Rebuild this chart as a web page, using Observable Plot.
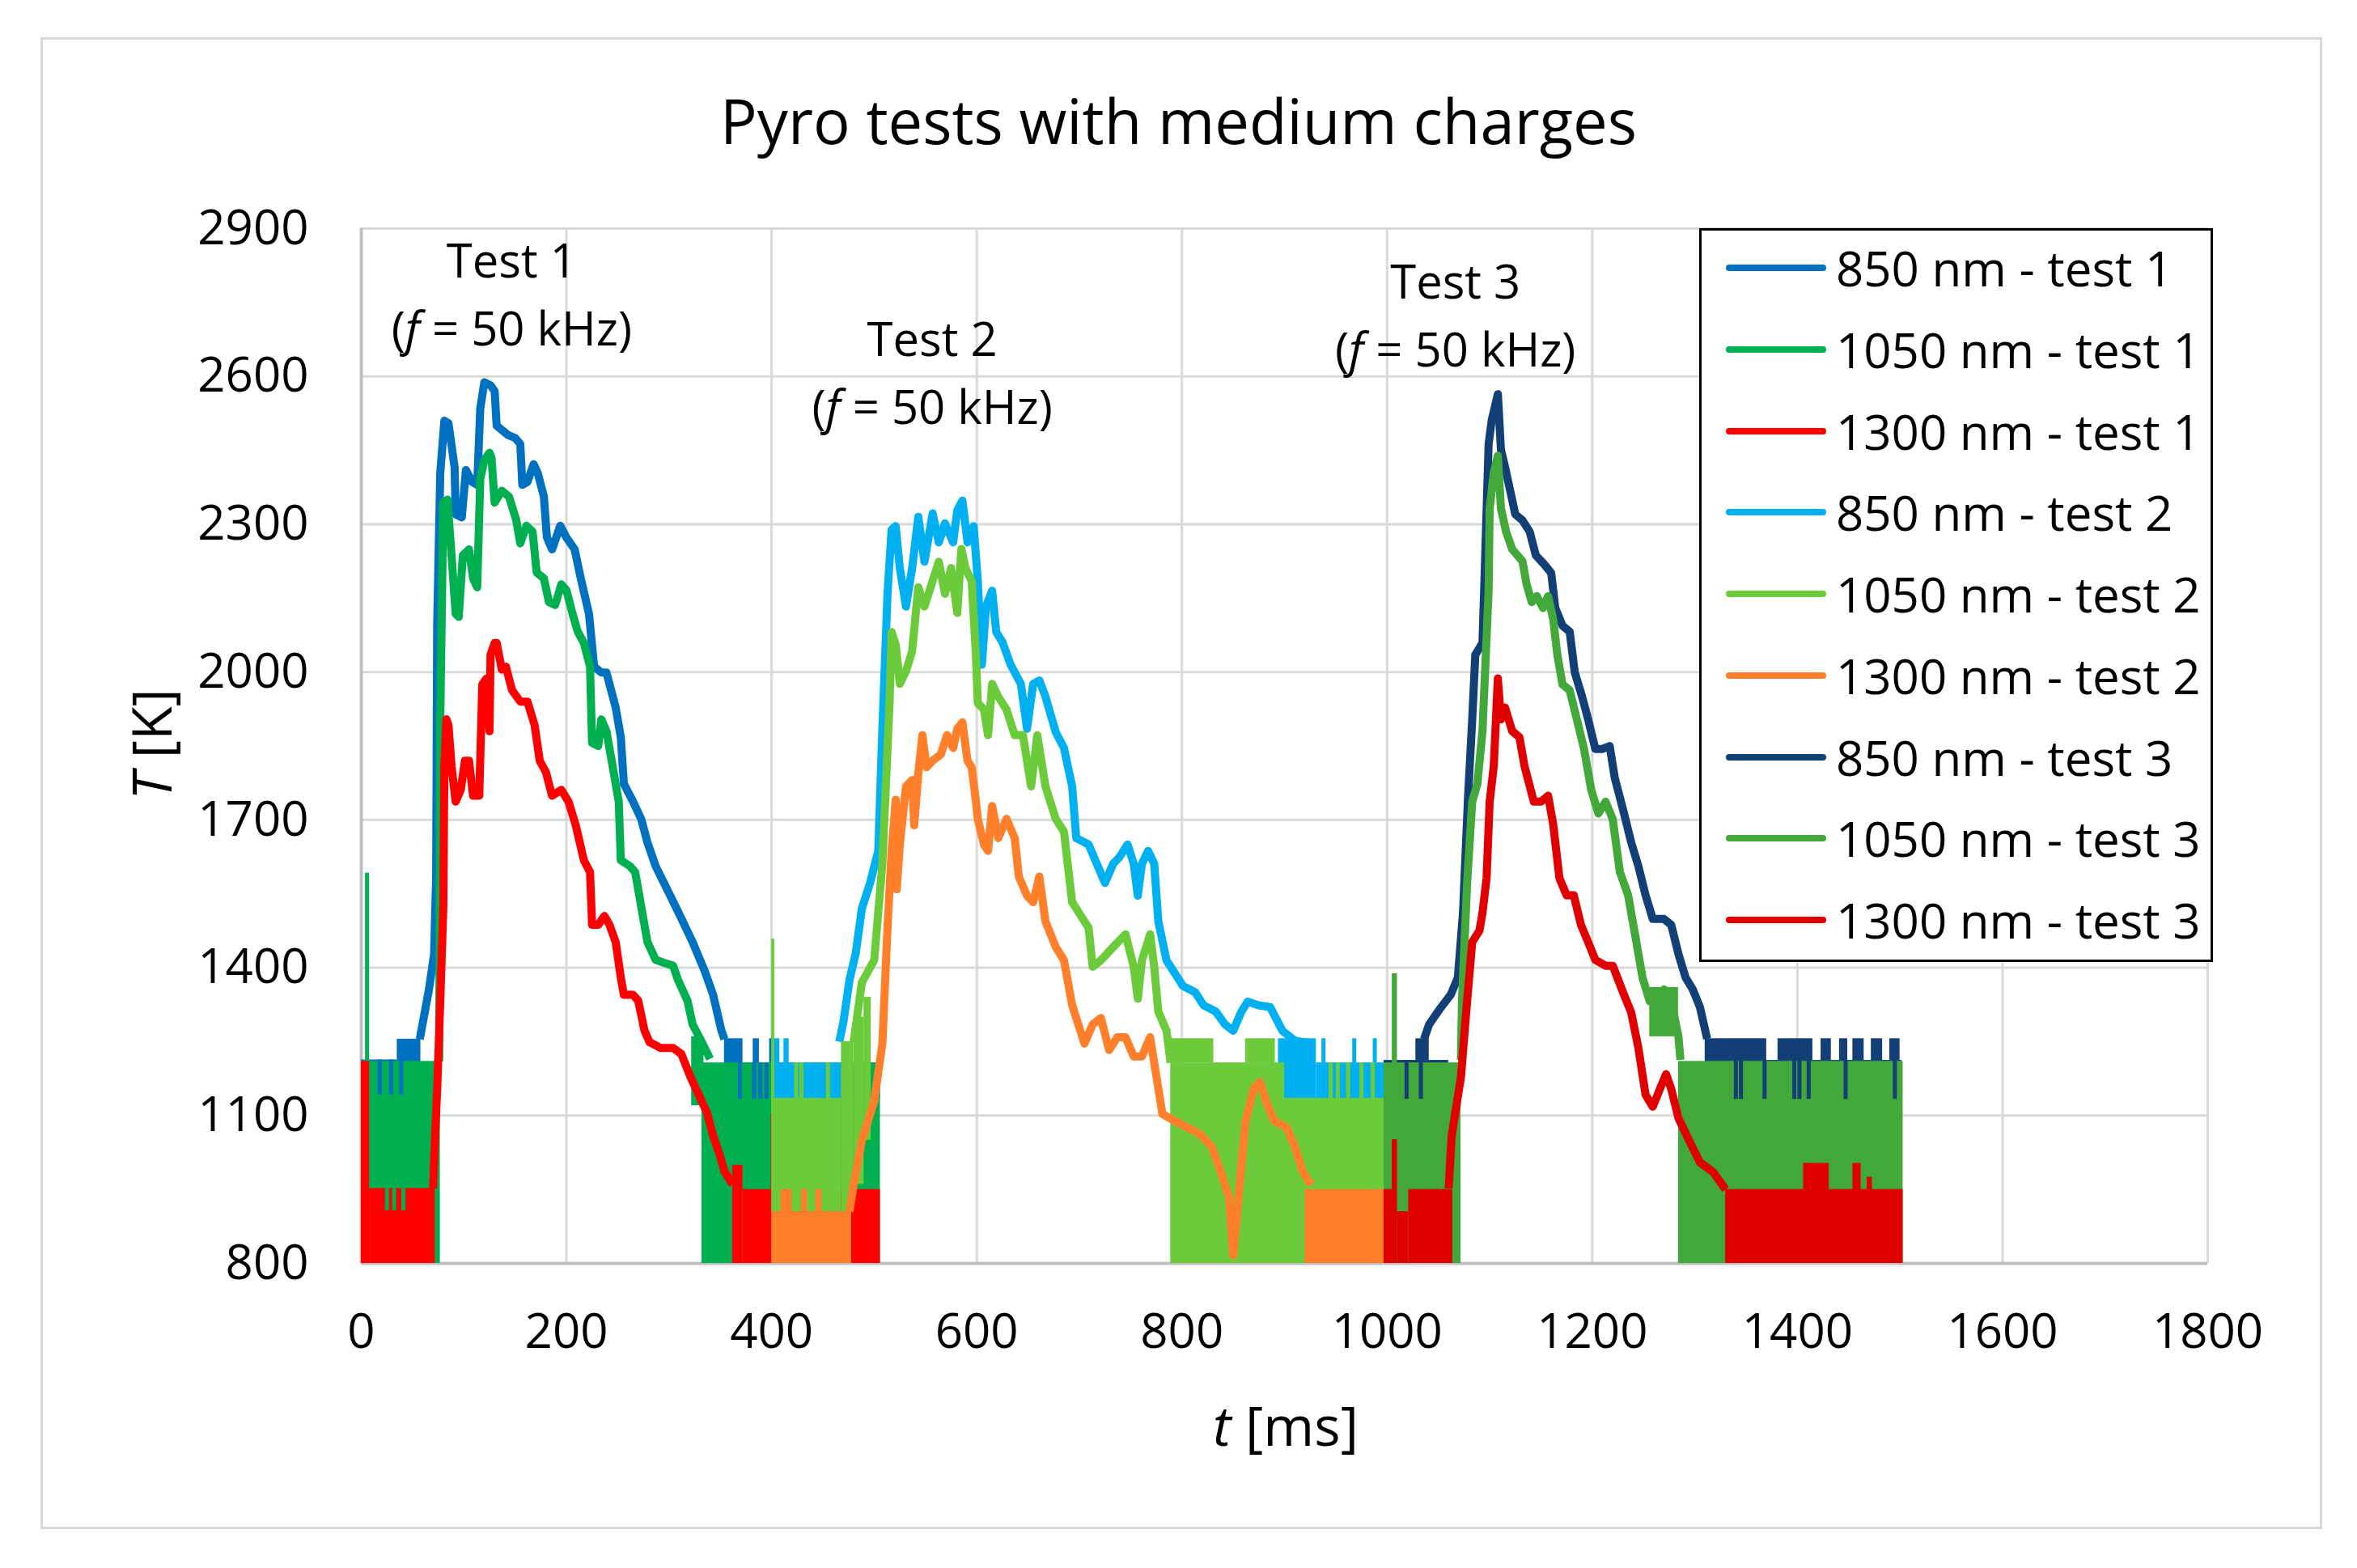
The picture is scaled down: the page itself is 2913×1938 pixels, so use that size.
<!DOCTYPE html>
<html>
<head>
<meta charset="utf-8">
<script src="https://cdn.jsdelivr.net/npm/d3@7"></script>
<script src="https://cdn.jsdelivr.net/npm/@observablehq/plot@0.6"></script>
<style>
  body { margin: 0; background: #fff; font-family: "Open Sans", sans-serif; color: #000; }
  #page { position: relative; width: 2913px; height: 1938px; overflow: hidden; }
  #frame { position: absolute; left: 50px; top: 46px; width: 2814px; height: 1838px; border: 3px solid #d9d9d9; }
  #title { position: absolute; left: 0; width: 2913px; top: 99px; text-align: center; font-size: 76px; line-height: 100px; }
  #chart { position: absolute; left: 0; top: 0; }
  .lbl { position: absolute; transform: translate(-50%, -50%); white-space: nowrap; font-size: 58px; line-height: 1; }
  .axt { position: absolute; white-space: nowrap; font-size: 68px; line-height: 1; }
  #legend { position: absolute; left: 2100px; top: 282px; width: 629px; height: 901px; border: 3px solid #000; background: #fff; }
  .item { position: absolute; left: 0; height: 100px; display: flex; align-items: center; }
  .sw { width: 124px; height: 8px; border-radius: 4px; margin-left: 30px; }
  .txt { font-size: 60px; margin-left: 12px; }
</style>
</head>
<body>
<div id="page">
  <div id="frame"></div>
  <div id="title">Pyro tests with medium charges</div>
  <div id="chart"></div>
  <div id="legend"></div>
</div>
<script>
// ─────────────────────────────────────────────
//  DATA  (t in ms, T in K)
// ─────────────────────────────────────────────
const SERIES = [
  "850 nm - test 1", "1050 nm - test 1", "1300 nm - test 1",
  "850 nm - test 2", "1050 nm - test 2", "1300 nm - test 2",
  "850 nm - test 3", "1050 nm - test 3", "1300 nm - test 3"
];
const COLORS = [
  "#0070c0", "#00b050", "#ff0000",
  "#00b0f0", "#6bcb3b", "#ff7f2a",
  "#123f75", "#42a83a", "#e00000"
];

const X_TICKS = [0, 200, 400, 600, 800, 1000, 1200, 1400, 1600, 1800];
const Y_TICKS = [800, 1100, 1400, 1700, 2000, 2300, 2600, 2900];

// smooth part of each trace  [t, T]
const LINE_850_1 = [[57,1255],[66,1356],[71,1428],[73,1583],[74,2094],[77,2404],[81,2510],[85,2505],[91,2415],[92,2320],[98,2314],[102,2410],[108,2386],[113,2380],[116,2535],[120,2588],[126,2582],[130,2570],[132,2500],[136,2493],[143,2481],[150,2475],[155,2463],[157,2380],[162,2386],[168,2422],[172,2404],[178,2356],[181,2273],[186,2249],[194,2297],[200,2273],[208,2249],[214,2190],[222,2118],[227,2011],[234,1999],[239,1999],[248,1928],[253,1868],[256,1773],[265,1737],[273,1701],[279,1654],[287,1606],[301,1547],[312,1500],[323,1452],[335,1392],[343,1345],[351,1273],[354,1255]];
const LINE_1050_1 = [[76,1210],[77,1904],[80,2344],[84,2350],[88,2237],[92,2118],[95,2112],[99,2237],[105,2249],[109,2190],[113,2172],[116,2392],[120,2430],[125,2445],[127,2434],[130,2344],[137,2368],[144,2356],[151,2309],[155,2261],[161,2297],[167,2285],[171,2202],[178,2190],[183,2142],[189,2136],[195,2178],[200,2166],[206,2118],[211,2082],[217,2059],[223,2011],[225,1856],[231,1850],[234,1904],[239,1880],[245,1809],[251,1737],[253,1618],[262,1606],[267,1594],[273,1523],[279,1452],[287,1416],[295,1410],[304,1404],[309,1374],[318,1333],[323,1285],[332,1249],[340,1215]];
const LINE_1300_1 = [[70,952],[72,1060],[74,1154],[77,1333],[80,1523],[81,1809],[83,1904],[85,1892],[88,1809],[92,1737],[97,1761],[101,1820],[105,1820],[109,1749],[115,1749],[118,1975],[122,1987],[125,1880],[126,2035],[130,2059],[132,2059],[137,2005],[141,2011],[147,1963],[155,1940],[162,1940],[169,1892],[174,1820],[180,1797],[186,1749],[195,1761],[202,1737],[209,1690],[217,1618],[223,1594],[225,1487],[231,1487],[237,1505],[242,1487],[248,1452],[253,1380],[256,1345],[265,1345],[270,1333],[276,1273],[281,1249],[292,1237],[304,1237],[312,1225],[321,1178],[329,1142],[337,1106],[343,1059],[349,1023],[354,987],[362,960]];
const LINE_850_2 = [[466,1250],[470,1290],[476,1376],[482,1429],[488,1520],[496,1572],[504,1637],[508,1885],[513,2159],[517,2289],[521,2296],[525,2211],[531,2133],[537,2211],[543,2315],[549,2224],[557,2322],[563,2263],[569,2302],[577,2263],[581,2328],[586,2348],[591,2263],[597,2296],[601,2185],[605,2015],[609,2133],[615,2165],[619,2081],[625,2061],[633,2015],[643,1976],[649,1885],[655,1976],[661,1983],[667,1950],[677,1878],[685,1846],[693,1768],[697,1663],[709,1650],[717,1611],[725,1572],[733,1611],[739,1624],[747,1650],[753,1611],[757,1546],[761,1611],[767,1637],[773,1611],[777,1494],[785,1415],[793,1389],[801,1363],[813,1350],[821,1324],[833,1311],[842,1285],[850,1272],[858,1311],[864,1331],[874,1324],[886,1320],[898,1272],[910,1252],[926,1246]];
const LINE_1050_2 = [[480,1250],[488,1370],[500,1415],[508,1611],[515,1937],[517,2081],[521,2055],[525,1976],[531,2002],[537,2042],[543,2172],[549,2133],[557,2185],[563,2224],[569,2159],[575,2211],[581,2120],[585,2250],[589,2211],[595,2185],[599,2042],[601,1937],[607,1924],[611,1872],[615,1976],[621,1950],[629,1924],[637,1872],[645,1872],[653,1768],[659,1872],[667,1768],[677,1702],[685,1676],[693,1533],[701,1507],[709,1481],[713,1402],[721,1415],[733,1442],[745,1468],[753,1402],[757,1337],[761,1415],[769,1468],[773,1402],[777,1311],[785,1272],[789,1207]];
const LINE_1300_2 = [[476,905],[480,960],[488,1050],[500,1129],[508,1246],[513,1481],[517,1637],[521,1741],[522,1559],[525,1650],[531,1768],[537,1781],[539,1689],[543,1794],[547,1872],[551,1807],[557,1820],[565,1833],[571,1872],[577,1846],[581,1885],[586,1898],[591,1820],[595,1807],[599,1741],[601,1702],[607,1650],[611,1637],[615,1728],[621,1663],[629,1702],[637,1663],[641,1585],[649,1546],[655,1533],[661,1585],[667,1494],[677,1442],[685,1415],[693,1324],[705,1246],[713,1285],[721,1298],[729,1233],[737,1259],[745,1259],[753,1220],[761,1220],[769,1259],[777,1155],[781,1103],[793,1089],[805,1076],[817,1063],[829,1037],[838,985],[846,933],[850,816],[854,907],[862,1089],[870,1155],[876,1168],[882,1129],[890,1089],[902,1076],[910,1037],[918,985],[926,959]];
const LINE_850_3 = [[1036,1255],[1041,1285],[1051,1315],[1062,1345],[1069,1380],[1074,1511],[1079,1749],[1083,1904],[1086,2035],[1093,2059],[1095,2190],[1099,2463],[1102,2511],[1108,2564],[1111,2451],[1115,2416],[1120,2368],[1125,2320],[1132,2308],[1139,2285],[1145,2237],[1153,2219],[1160,2201],[1164,2130],[1171,2094],[1178,2082],[1183,1999],[1190,1951],[1196,1904],[1203,1844],[1210,1844],[1217,1850],[1222,1785],[1231,1713],[1238,1654],[1245,1606],[1252,1547],[1259,1499],[1270,1499],[1277,1487],[1284,1428],[1291,1380],[1298,1356],[1305,1320],[1312,1256]];
const LINE_1050_3 = [[1072,1213],[1073,1332],[1078,1571],[1083,1737],[1088,1773],[1093,1880],[1099,2166],[1100,2332],[1104,2404],[1108,2439],[1111,2332],[1116,2285],[1122,2249],[1127,2237],[1132,2225],[1136,2178],[1141,2142],[1146,2154],[1152,2130],[1157,2154],[1162,2106],[1166,2035],[1171,1975],[1178,1963],[1185,1904],[1192,1844],[1199,1761],[1206,1713],[1213,1737],[1220,1701],[1227,1594],[1235,1547],[1242,1464],[1249,1380],[1256,1332],[1263,1345],[1270,1356],[1277,1332],[1284,1261],[1286,1213]];
const LINE_1300_3 = [[1060,952],[1063,1059],[1072,1178],[1078,1332],[1083,1452],[1090,1475],[1093,1511],[1097,1582],[1100,1737],[1104,1809],[1108,1987],[1111,1904],[1115,1928],[1122,1880],[1129,1868],[1134,1809],[1143,1737],[1150,1737],[1157,1749],[1162,1690],[1168,1582],[1175,1547],[1182,1547],[1189,1487],[1196,1452],[1203,1416],[1213,1404],[1220,1404],[1231,1345],[1238,1309],[1245,1237],[1252,1142],[1259,1118],[1266,1154],[1272,1184],[1277,1154],[1284,1095],[1295,1047],[1305,1005],[1318,985],[1330,950]];

// noisy stretches, where the trace fills a band  [t0, t1, Tlow, Thigh]
const BAND_850_1  = [[0,35,1140,1213],[35,58,1140,1255],[354,372,1135,1256],[372,506,1135,1207],[382,388,1207,1256],[398,403,1207,1256]];
const BAND_1050_1 = [[0,77,800,1210],[4,8,1210,1592],[322,334,1120,1260],[332,506,800,1207]];
const BAND_1300_1 = [[0,8,800,1210],[8,72,800,952],[362,372,800,999],[372,506,800,950]];
const BAND_850_2  = [[400,468,1135,1207],[402,408,1207,1256],[412,417,1207,1256],[894,931,1135,1256],[931,1000,1135,1207]];
const BAND_1050_2 = [[400,468,905,1135],[400,403,1135,1458],[468,480,905,1250],[480,490,960,1300],[490,497,1050,1340],[789,831,1207,1256],[789,900,800,1207],[862,891,1207,1256],[900,997,800,1135]];
const BAND_1300_2 = [[400,478,800,905],[409,420,905,950],[429,435,905,950],[443,449,905,950],[920,997,800,950]];
const BAND_850_3  = [[997,1060,1135,1212],[1028,1041,1212,1256],[1310,1502,1135,1212],[1310,1370,1212,1256],[1381,1415,1212,1256],[1423,1433,1212,1256],[1441,1449,1212,1256],[1454,1465,1212,1256],[1472,1483,1212,1256],[1490,1500,1212,1256]];
const BAND_1050_3 = [[997,1072,800,1207],[1005,1010,1207,1388],[1256,1284,1260,1360],[1284,1503,800,1210]];
const BAND_1300_3 = [[997,1005,800,950],[1005,1010,800,1051],[1010,1021,800,905],[1021,1064,800,950],[1330,1503,800,950],[1406,1431,800,1003],[1454,1462,800,1003],[1468,1473,800,975]];

// single spikes out of the noise  [t, Tlow, Thigh]
const SPIKE_850_1  = [[18,1142,1213],[29,1142,1213],[39,1142,1213],[369,1133,1207],[383,1133,1207],[389,1133,1207],[395,1133,1207]];
const SPIKE_1050_1 = [[25,907,952],[32,907,952],[41,907,952]];
const SPIKE_1300_1 = [[401,905,1102]];
const SPIKE_850_2  = [[938,1207,1256],[968,1207,1256],[988,1207,1256]];
const SPIKE_1050_2 = [[424,1135,1207],[429,1135,1207],[455,1135,1207],[945,1135,1207],[952,1135,1207],[962,1135,1207],[975,1135,1207],[986,1135,1207]];
const SPIKE_1300_2 = [];
const SPIKE_850_3  = [[1019,1133,1212],[1033,1133,1212],[1340,1133,1212],[1345,1133,1212],[1368,1133,1212],[1397,1133,1212],[1402,1133,1212],[1411,1133,1212],[1447,1133,1212],[1495,1133,1212]];
const SPIKE_1050_3 = [];
const SPIKE_1300_3 = [];

// annotations above each test
const ANNOT_TITLE = ["Test 1", "Test 2", "Test 3"];
const ANNOT_T     = [147, 557, 1067];
const ANNOT_TOP   = [2836, 2677, 2793];
const ANNOT_LOW   = [2698, 2539, 2655];

const LINES  = [LINE_850_1, LINE_1050_1, LINE_1300_1, LINE_850_2, LINE_1050_2, LINE_1300_2, LINE_850_3, LINE_1050_3, LINE_1300_3];
const BANDS  = [BAND_850_1, BAND_1050_1, BAND_1300_1, BAND_850_2, BAND_1050_2, BAND_1300_2, BAND_850_3, BAND_1050_3, BAND_1300_3];
const SPIKES = [SPIKE_850_1, SPIKE_1050_1, SPIKE_1300_1, SPIKE_850_2, SPIKE_1050_2, SPIKE_1300_2, SPIKE_850_3, SPIKE_1050_3, SPIKE_1300_3];

// ─────────────────────────────────────────────
//  MARKS  (test by test, so later tests sit on top)
// ─────────────────────────────────────────────
const seriesMarks = [];
for (let test = 0; test < 3; test++) {
  for (let k = 0; k < 3; k++) {
    const i = test * 3 + k;
    seriesMarks.push(
      Plot.rect(BANDS[i], { x1: d => d[0], x2: d => d[1], y1: d => d[2], y2: d => d[3], fill: COLORS[i] }),
      Plot.line(LINES[i], { x: d => d[0], y: d => d[1], stroke: COLORS[i], strokeWidth: 10, strokeLinejoin: "round", strokeLinecap: "butt" })
    );
  }
  // spikes go last inside a test: they show through the neighbouring series
  for (let k = 0; k < 3; k++) {
    const i = test * 3 + k;
    seriesMarks.push(
      Plot.ruleX(SPIKES[i], { x: d => d[0], y1: d => d[1], y2: d => d[2], stroke: COLORS[i], strokeWidth: 5 })
    );
  }
}

const chart = Plot.plot({
  width: 2913,
  height: 1938,
  marginLeft: 446,
  marginRight: 185,
  marginTop: 282,
  marginBottom: 377,
  style: { fontFamily: "Open Sans, sans-serif", fontSize: "60px", color: "#000", background: "transparent", overflow: "visible" },
  x: { domain: [0, 1800] },
  y: { domain: [800, 2900] },
  marks: [
    Plot.gridX(X_TICKS, { stroke: "#d9d9d9", strokeOpacity: 1, strokeWidth: 3 }),
    Plot.gridY(Y_TICKS, { stroke: "#d9d9d9", strokeOpacity: 1, strokeWidth: 3 }),
    Plot.ruleX([0], { stroke: "#bfbfbf", strokeWidth: 4 }),
    Plot.ruleY([800], { stroke: "#bfbfbf", strokeWidth: 4 }),
    ...seriesMarks,
    Plot.axisX(X_TICKS, { tickSize: 0, tickPadding: 62, label: null, tickFormat: d => String(d), fontSize: 60 }),
    Plot.axisY(Y_TICKS, { tickSize: 0, tickPadding: 65, label: null, tickFormat: d => String(d), fontSize: 60 })
  ]
});
document.getElementById("chart").appendChild(chart);

// ─────────────────────────────────────────────
//  HTML OVERLAYS  (italic symbols, legend)
// ─────────────────────────────────────────────
const page = document.getElementById("page");
const sx = chart.scale("x"), sy = chart.scale("y");

ANNOT_TITLE.forEach((txt, i) => {
  const a = document.createElement("div");
  a.className = "lbl";
  a.style.left = sx.apply(ANNOT_T[i]) + "px";
  a.style.top  = sy.apply(ANNOT_TOP[i]) + "px";
  a.textContent = txt;
  page.appendChild(a);

  const b = document.createElement("div");
  b.className = "lbl";
  b.style.left = sx.apply(ANNOT_T[i]) + "px";
  b.style.top  = sy.apply(ANNOT_LOW[i]) + "px";
  b.innerHTML = "(<i>f</i> = 50 kHz)";
  page.appendChild(b);
});

// axis titles
const yt = document.createElement("div");
yt.className = "axt";
yt.innerHTML = "<i>T</i> [K]";
yt.style.left = "186px";
yt.style.top = "920px";
yt.style.transform = "translate(-50%, -50%) rotate(-90deg)";
page.appendChild(yt);

const xt = document.createElement("div");
xt.className = "axt";
xt.innerHTML = "<i>t</i> [ms]";
xt.style.left = "1589px";
xt.style.top = "1761px";
xt.style.transform = "translate(-50%, -50%)";
page.appendChild(xt);

// legend
const legend = document.getElementById("legend");
SERIES.forEach((name, i) => {
  const item = document.createElement("div");
  item.className = "item";
  item.style.top = (-4 + i * 100.75) + "px";
  item.innerHTML = `<span class="sw" style="background:${COLORS[i]}"></span><span class="txt">${name}</span>`;
  legend.appendChild(item);
});
</script>
</body>
</html>
